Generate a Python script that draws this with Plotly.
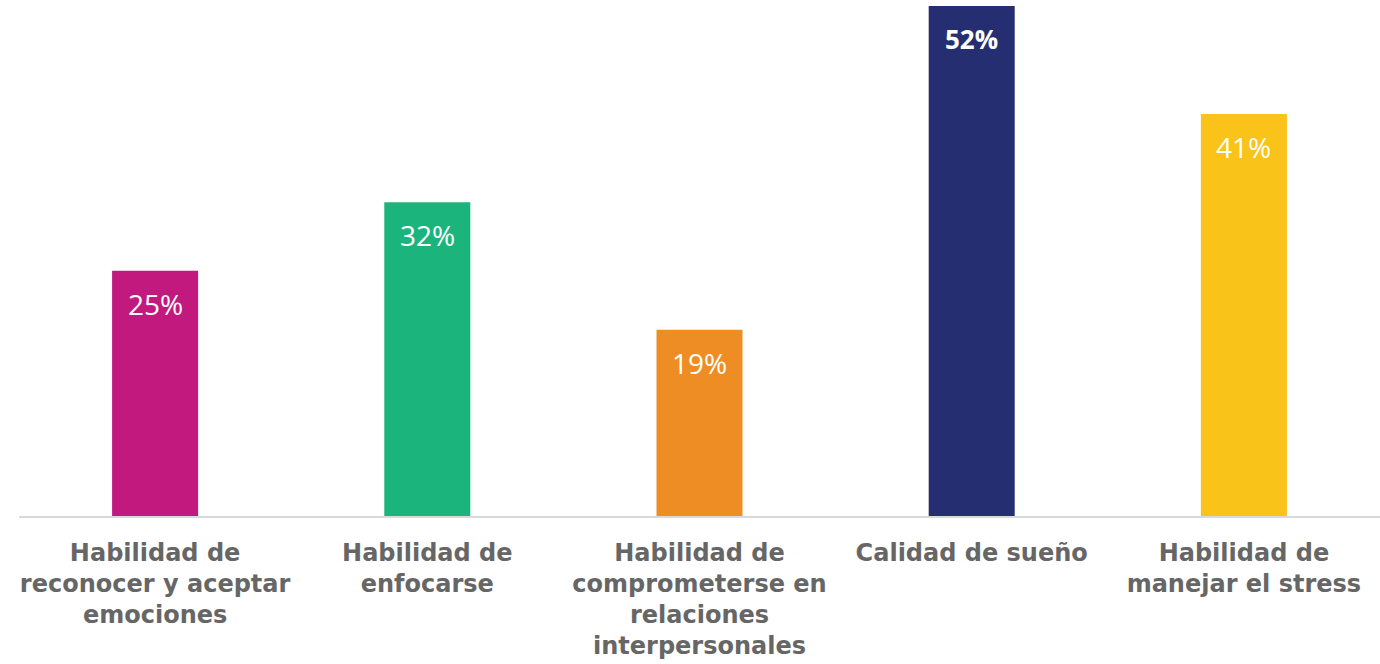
import plotly.graph_objects as go

categories = [
    "Habilidad de<br>reconocer y aceptar<br>emociones",
    "Habilidad de<br>enfocarse",
    "Habilidad de<br>comprometerse en<br>relaciones<br>interpersonales",
    "Calidad de sueño",
    "Habilidad de<br>manejar el stress",
]
values = [25, 32, 19, 52, 41]
value_labels = ["25%", "32%", "19%", "52%", "41%"]
bold_labels = [False, False, False, True, False]
colors = ["#C2197F", "#1BB47D", "#EE8D24", "#262E72", "#F9C31A"]

fig = go.Figure()
fig.add_trace(go.Bar(
    x=categories, y=values,
    marker=dict(color=colors, line=dict(width=0)),
    hoverinfo="skip",
))

for c, v, t, b in zip(categories, values, value_labels, bold_labels):
    fig.add_annotation(
        x=c, y=v, text=t, showarrow=False, yanchor="middle", yshift=-33,
        font=dict(family="Open Sans", size=26 if b else 28, color="white",
                  weight="bold" if b else "normal"),
    )

fig.update_layout(
    width=1380, height=664,
    margin=dict(l=19, r=0, t=6, b=148),
    paper_bgcolor="white", plot_bgcolor="white",
    bargap=0.684,
    showlegend=False,
    xaxis=dict(
        showline=True, linecolor="#D9D9D9", linewidth=2,
        ticks="", showgrid=False,
        tickfont=dict(family="DejaVu Sans", size=24, color="#666666", weight="bold"),
        ticklabelstandoff=14,
    ),
    yaxis=dict(range=[0, 52], visible=False, showgrid=False, zeroline=False),
)

fig.write_html("out.html")
